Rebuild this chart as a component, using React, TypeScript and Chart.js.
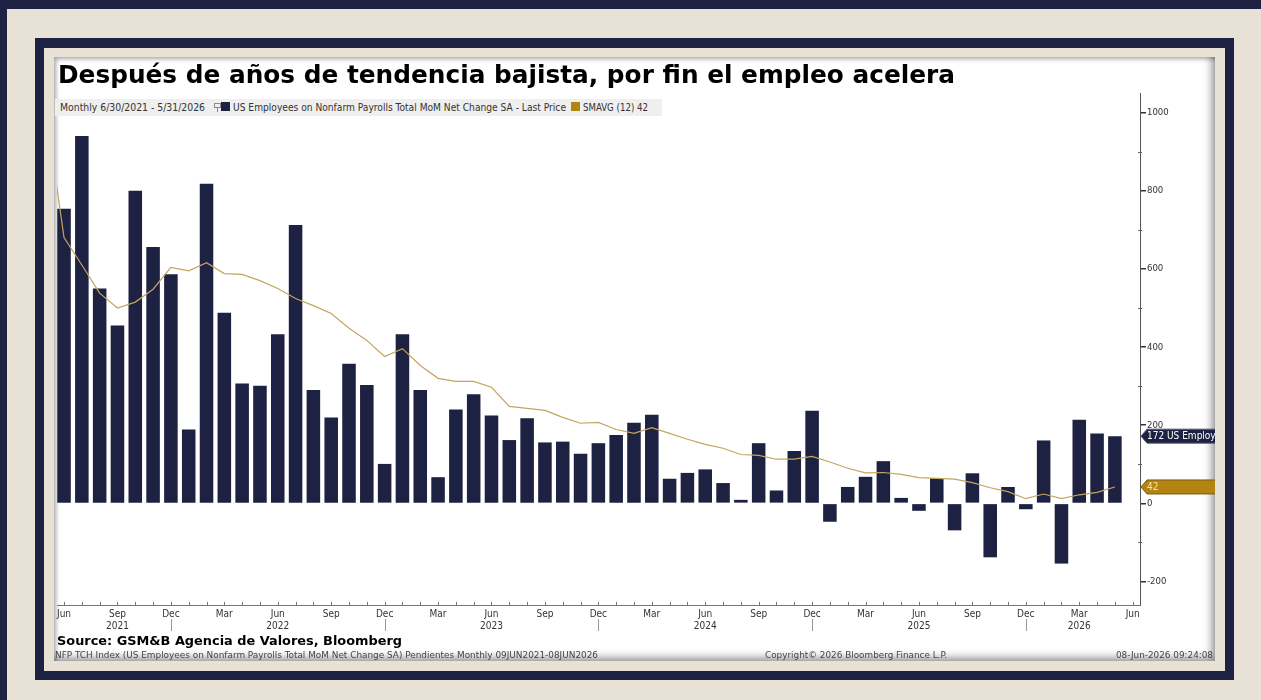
import React, { useEffect, useLayoutEffect, useRef } from "react";
import { Chart, registerables } from "chart.js";
Chart.register(...registerables);

// ---------- data ----------
const categories = [
  "Jun 2021","Jul 2021","Aug 2021","Sep 2021","Oct 2021","Nov 2021","Dec 2021",
  "Jan 2022","Feb 2022","Mar 2022","Apr 2022","May 2022","Jun 2022","Jul 2022","Aug 2022","Sep 2022","Oct 2022","Nov 2022","Dec 2022",
  "Jan 2023","Feb 2023","Mar 2023","Apr 2023","May 2023","Jun 2023","Jul 2023","Aug 2023","Sep 2023","Oct 2023","Nov 2023","Dec 2023",
  "Jan 2024","Feb 2024","Mar 2024","Apr 2024","May 2024","Jun 2024","Jul 2024","Aug 2024","Sep 2024","Oct 2024","Nov 2024","Dec 2024",
  "Jan 2025","Feb 2025","Mar 2025","Apr 2025","May 2025","Jun 2025","Jul 2025","Aug 2025","Sep 2025","Oct 2025","Nov 2025","Dec 2025",
  "Jan 2026","Feb 2026","Mar 2026","Apr 2026","May 2026",
];

const payrolls = [
  754, 940, 550, 455, 800, 656, 586, 189, 818, 488,
  307, 301, 433, 712, 290, 220, 357, 303, 101, 433,
  290, 67, 240, 279, 225, 162, 218, 156, 158, 127,
  154, 175, 206, 227, 63, 78, 87, 52, 9, 154,
  33, 134, 237, -47, 42, 68, 108, 14, -19, 64,
  -69, 77, -138, 42, -15, 161, -154, 214, 179, 172,
];

const sma12 = [
  680, 610, 538, 500, 515, 548, 604, 595, 616, 588,
  586, 570, 550, 524, 506, 486, 448, 417, 376, 396,
  353, 320, 312, 312, 297, 248, 243, 238, 220, 205,
  207, 189, 179, 194, 179, 164, 151, 141, 125, 123,
  113, 113, 120, 106, 90, 78, 79, 74, 66, 64,
  62, 53, 40, 30, 12, 24, 12, 22, 28, 42,
];
const smaBeforeStart = 1000; // May 2021 value, drawn off the left edge

const xTickIndex = [0, 3, 6, 9, 12, 15, 18, 21, 24, 27, 30, 33, 36, 39, 42, 45, 48, 51, 54, 57, 60];
const xTickMonth = ["Jun","Sep","Dec","Mar","Jun","Sep","Dec","Mar","Jun","Sep","Dec","Mar","Jun","Sep","Dec","Mar","Jun","Sep","Dec","Mar","Jun"];
const xTickYear = ["","2021","","","2022","","","","2023","","","","2024","","","","2025","","","2026",""];
const yearBreakIndex = [6, 18, 30, 42, 54];

const yTickValues = [-200, 0, 200, 400, 600, 800, 1000];
const yMinorValues = [-100, 100, 300, 500, 700, 900];

const lastPriceTag = "172 US Employ";
const smaTag = "42";

// ---------- styles ----------
const NAVY = "#1d2142";
const BEIGE = "#e8e1d5";
const GOLD_LINE = "#c4a55e";
const GOLD_TAG = "#b3840f";
const SMALL_FONT = "'DejaVu Sans Condensed', 'DejaVu Sans', sans-serif";
const BOLD_FONT = "'DejaVu Sans', Verdana, sans-serif";

type FitProps = {
  text: string; left: number; top: number; width: number; size: number;
  bold?: boolean; color?: string; family?: string;
};

function FitText({ text, left, top, width, size, bold, color, family }: FitProps) {
  const ref = useRef<HTMLSpanElement>(null);
  useLayoutEffect(() => {
    const el = ref.current;
    if (!el) return;
    el.style.transform = "none";
    const w = el.getBoundingClientRect().width;
    if (w > 0) el.style.transform = `scaleX(${width / w})`;
  }, [text, width]);
  return (
    <span
      ref={ref}
      style={{
        position: "absolute", left, top, whiteSpace: "nowrap",
        fontFamily: family || SMALL_FONT, fontSize: size, lineHeight: `${size}px`,
        fontWeight: bold ? "bold" : "normal", color: color || "#333",
        transformOrigin: "0 0", zIndex: 5,
      }}
    >
      {text}
    </span>
  );
}

export default function App() {
  const canvasRef = useRef<HTMLCanvasElement>(null);

  useEffect(() => {
    const canvas = canvasRef.current;
    if (!canvas) return;

    const barData = payrolls.map((v, i) => ({ x: i, y: v }));
    const lineData = [{ x: -1, y: smaBeforeStart }, ...sma12.map((v, i) => ({ x: i, y: v }))];

    const decor = {
      id: "decor",
      afterDraw(chart: any) {
        const { ctx, chartArea, scales } = chart;
        const xs = scales.x;
        const ys = scales.y;
        ctx.save();
        // month ticks (inside, above x axis)
        ctx.strokeStyle = "#777";
        ctx.lineWidth = 1;
        for (let i = 0; i <= categories.length; i++) {
          const px = Math.round(xs.getPixelForValue(i)) + 0.5;
          ctx.beginPath();
          ctx.moveTo(px, chartArea.bottom - 3);
          ctx.lineTo(px, chartArea.bottom);
          ctx.stroke();
        }
        // year separators
        ctx.strokeStyle = "#999";
        for (const i of yearBreakIndex) {
          const px = Math.round(xs.getPixelForValue(i)) + 0.5;
          ctx.beginPath();
          ctx.moveTo(px, chartArea.bottom + 14);
          ctx.lineTo(px, chartArea.bottom + 26);
          ctx.stroke();
        }
        // minor y ticks
        ctx.strokeStyle = "#666";
        for (const v of yMinorValues) {
          const py = Math.round(ys.getPixelForValue(v)) + 0.5;
          ctx.beginPath();
          ctx.moveTo(chartArea.right - 2, py);
          ctx.lineTo(chartArea.right + 2, py);
          ctx.stroke();
        }
        // value tags
        const drawTag = (value: number, fill: string, stroke: string, textColor: string, label: string) => {
          const y = ys.getPixelForValue(value);
          const x0 = chartArea.right + 1;
          const h = 7;
          ctx.beginPath();
          ctx.moveTo(x0, y);
          ctx.lineTo(x0 + 6, y - h);
          ctx.lineTo(chart.width + 2, y - h);
          ctx.lineTo(chart.width + 2, y + h);
          ctx.lineTo(x0 + 6, y + h);
          ctx.closePath();
          ctx.fillStyle = fill;
          ctx.fill();
          ctx.strokeStyle = stroke;
          ctx.lineWidth = 1;
          ctx.stroke();
          ctx.fillStyle = textColor;
          ctx.font = `10px ${SMALL_FONT}`;
          ctx.textBaseline = "middle";
          ctx.textAlign = "left";
          ctx.fillText(label, x0 + 6, y + 0.5);
        };
        drawTag(payrolls[payrolls.length - 1], NAVY, "#555a70", "#ffffff", lastPriceTag);
        drawTag(sma12[sma12.length - 1], GOLD_TAG, "#7a5a0a", "#f6e6a8", smaTag);
        ctx.restore();
      },
    };

    const chart = new Chart(canvas, {
      type: "bar",
      data: {
        datasets: [
          {
            type: "line",
            data: lineData,
            borderColor: GOLD_LINE,
            borderWidth: 1.2,
            pointRadius: 0,
            tension: 0,
            order: 0,
          } as any,
          {
            type: "bar",
            data: barData,
            backgroundColor: NAVY,
            borderWidth: 0,
            barPercentage: 0.76,
            categoryPercentage: 1,
            order: 1,
          } as any,
        ],
      },
      options: {
        animation: false,
        responsive: false,
        maintainAspectRatio: false,
        layout: { padding: { top: 36, left: 0, right: 0, bottom: 0 } },
        plugins: { legend: { display: false }, tooltip: { enabled: false } },
        scales: {
          x: {
            type: "linear",
            min: -0.39,
            max: 60.41,
            offset: false,
            afterBuildTicks: (s: any) => {
              s.ticks = xTickIndex.map((v) => ({ value: v }));
            },
            afterFit: (s: any) => {
              s.height = 56;
            },
            ticks: {
              autoSkip: false,
              maxRotation: 0,
              minRotation: 0,
              includeBounds: false,
              padding: 3,
              color: "#333",
              font: { family: SMALL_FONT, size: 10 },
              callback: (value: any) => {
                const k = xTickIndex.indexOf(Number(value));
                if (k < 0) return "";
                return xTickYear[k] ? [xTickMonth[k], xTickYear[k]] : xTickMonth[k];
              },
            },
            grid: { display: false, drawOnChartArea: false, drawTicks: false, offset: false },
            border: { display: true, color: "#777", width: 1 },
          },
          y: {
            position: "right",
            min: -260,
            max: 1050,
            afterBuildTicks: (s: any) => {
              s.ticks = yTickValues.map((v) => ({ value: v }));
            },
            afterFit: (s: any) => {
              s.width = 75;
            },
            ticks: {
              includeBounds: false,
              padding: 1,
              color: "#333",
              font: { family: SMALL_FONT, size: 9.5 },
              callback: (v: any) => String(v),
            },
            grid: { drawOnChartArea: false, drawTicks: true, tickLength: 6, color: "#333", lineWidth: 1.5 },
            border: { display: true, color: "#555", width: 1 },
          },
        },
      } as any,
      plugins: [decor],
    });

    return () => chart.destroy();
  }, []);

  return (
    <div style={{ position: "absolute", left: 0, top: 0, width: 1261, height: 700, background: BEIGE, overflow: "hidden" }}>
      <div style={{ position: "absolute", left: 0, top: 0, width: 1261, height: 9, background: NAVY }} />
      <div style={{ position: "absolute", left: 0, top: 0, width: 7, height: 700, background: NAVY }} />
      <div
        style={{
          position: "absolute", left: 35, top: 38, width: 1199, height: 642, boxSizing: "border-box",
          border: `9px solid ${NAVY}`, borderTopWidth: 10,
        }}
      />
      <div
        style={{
          position: "absolute", left: 54, top: 57, width: 1161, height: 604, background: "#ffffff",
          boxShadow: "inset -9px -9px 9px -6px rgba(0,0,0,0.45), inset 4px 4px 4px -2px rgba(0,0,0,0.35)",
        }}
      />
      <canvas
        ref={canvasRef}
        width={1161}
        height={604}
        style={{ position: "absolute", left: 54, top: 57, width: 1161, height: 604, zIndex: 2 }}
      />
      {/* title */}
      <FitText text="Después de años de tendencia bajista, por fin el empleo acelera" left={58} top={62} width={897} size={25} bold color="#000" family={BOLD_FONT} />
      {/* legend */}
      <div style={{ position: "absolute", left: 55, top: 99, width: 607, height: 17, background: "#efefef", zIndex: 4 }} />
      <FitText text="Monthly 6/30/2021 - 5/31/2026" left={60} top={102.5} width={145} size={10} />
      <div style={{ position: "absolute", left: 214, top: 103, width: 5, height: 3, border: "1px solid #8a8a8a", zIndex: 5 }} />
      <div style={{ position: "absolute", left: 217, top: 107, width: 1, height: 5, background: "#8a8a8a", zIndex: 5 }} />
      <div style={{ position: "absolute", left: 221, top: 102, width: 9, height: 9, background: NAVY, zIndex: 5 }} />
      <FitText text="US Employees on Nonfarm Payrolls Total MoM Net Change SA - Last Price" left={233} top={102.5} width={333} size={10} />
      <div style={{ position: "absolute", left: 571, top: 102, width: 9, height: 9, background: GOLD_TAG, zIndex: 5 }} />
      <FitText text="SMAVG (12) 42" left={583} top={102.5} width={65} size={10} />
      {/* footer */}
      <FitText text="Source: GSM&B Agencia de Valores, Bloomberg" left={57} top={634} width={345} size={13} bold color="#000" family={BOLD_FONT} />
      <FitText text="NFP TCH Index (US Employees on Nonfarm Payrolls Total MoM Net Change SA) Pendientes Monthly 09JUN2021-08JUN2026" left={55} top={651} width={543} size={9} color="#444" />
      <FitText text="Copyright© 2026 Bloomberg Finance L.P." left={765} top={651} width={182} size={9} color="#444" />
      <FitText text="08-Jun-2026 09:24:08" left={1116} top={651} width={97} size={9} color="#444" />
    </div>
  );
}
